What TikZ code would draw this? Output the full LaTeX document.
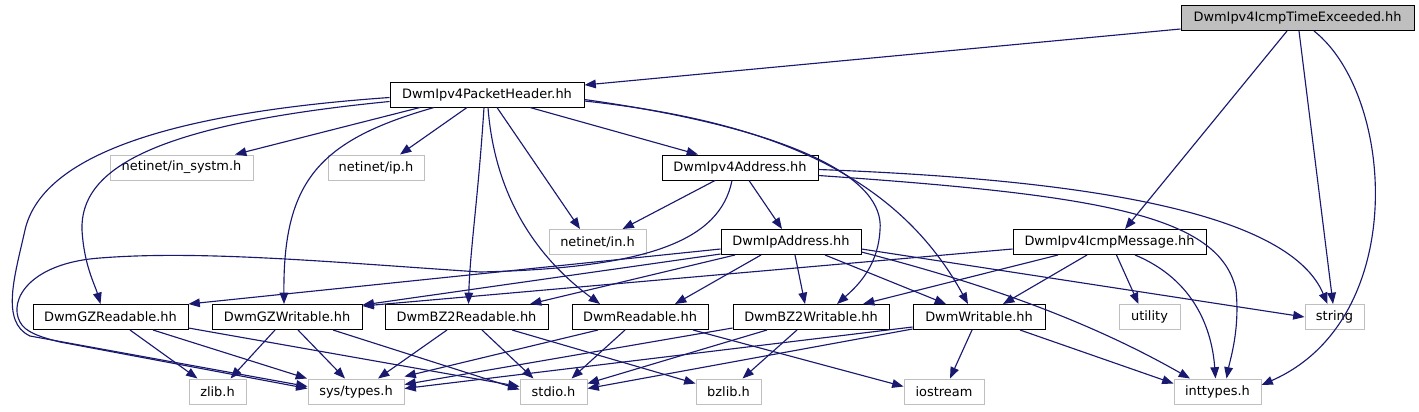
\documentclass[tikz,border=0pt]{standalone}
\usepackage{fontspec}
\setmainfont{DejaVu Sans}
\usetikzlibrary{calc,arrows.meta}
\definecolor{edgecol}{HTML}{191970}
\definecolor{extgray}{HTML}{BFBFBF}
\begin{document}
\begin{tikzpicture}[x=0.75pt,y=-0.75pt,
  box/.style={draw=black, fill=white, line width=0.75pt, minimum height=18.75pt, inner sep=0pt, font=\fontsize{9.7}{11}\selectfont},
  extbox/.style={box, draw=extgray},
  rootbox/.style={box, fill=extgray},
  dep/.style={draw=edgecol, line width=0.85pt, -{Triangle[length=8.5pt,width=6.5pt]}, fill=none}]
\useasboundingbox (0,0) rectangle (1419,411);
% nodes
\node[rootbox, minimum width=174.75pt] (te) at (1297.5,18) {DwmIpv4IcmpTimeExceeded.hh};
\node[box, minimum width=145.5pt] (ph) at (487,94.5) {DwmIpv4PacketHeader.hh};
\node[extbox, minimum width=107.25pt] (insystm) at (181.5,167.5) {netinet/in\_systm.h};
\node[extbox, minimum width=72pt] (ip) at (376,167.5) {netinet/ip.h};
\node[box, minimum width=117pt] (v4a) at (740,167.5) {DwmIpv4Address.hh};
\node[extbox, minimum width=72.75pt] (in) at (597.5,242) {netinet/in.h};
\node[box, minimum width=105pt] (ipa) at (791,242) {DwmIpAddress.hh};
\node[box, minimum width=144.75pt] (icmp) at (1109.5,242) {DwmIpv4IcmpMessage.hh};
\node[box, minimum width=116.25pt] (gzr) at (110.5,317) {DwmGZReadable.hh};
\node[box, minimum width=112.5pt] (gzw) at (287,317) {DwmGZWritable.hh};
\node[box, minimum width=122.25pt] (bz2r) at (466.5,317) {DwmBZ2Readable.hh};
\node[box, minimum width=102pt] (rd) at (640,317) {DwmReadable.hh};
\node[box, minimum width=117pt] (bz2w) at (811,317) {DwmBZ2Writable.hh};
\node[box, minimum width=99pt] (wr) at (979,317) {DwmWritable.hh};
\node[extbox, minimum width=45.75pt] (util) at (1149.5,317) {utility};
\node[extbox, minimum width=44.25pt] (str) at (1334.5,317) {string};
\node[extbox, minimum width=42.75pt] (zlib) at (217.5,391.5) {zlib.h};
\node[extbox, minimum width=72pt] (sys) at (356,391.5) {sys/types.h};
\node[extbox, minimum width=50.25pt] (stdio) at (553.5,391.5) {stdio.h};
\node[extbox, minimum width=48.75pt] (bzlib) at (728.5,391.5) {bzlib.h};
\node[extbox, minimum width=60pt] (ios) at (944,391.5) {iostream};
\node[extbox, minimum width=65.25pt] (int) at (1217.5,391.5) {inttypes.h};
% edges from te
\draw[dep] ($(te.south west)+(0,-2)$) -- ($(ph.east)+(0,-9.5)$);
\draw[dep] ($(te.south)+(-10.5,0)$) -- ($(icmp.north)+(15.5,0)$);
\draw[dep] ($(te.south)+(1.5,0)$) -- ($(str.north)+(-1.5,0)$);
\draw[dep] ($(te.south)+(16.5,0)$) .. controls (1395,95) and (1410,320) .. ($(int.east)+(0,-6.5)$);
% edges from ph
\draw[dep] ($(ph.south)+(-67,0)$) -- ($(insystm.north)+(53.5,0)$);
\draw[dep] ($(ph.south)+(-20,0)$) -- ($(ip.north)+(24,0)$);
\draw[dep] ($(ph.south)+(43,0)$) -- ($(v4a.north)+(-42,0)$);
\draw[dep] ($(ph.south)+(10,0)$) -- ($(in.north)+(-17.5,0)$);
\draw[dep] ($(ph.west)+(0,7)$) .. controls (150,125) and (80,170) .. (82,230) .. controls (84,265) and (95,285) .. ($(gzr.north)+(-10,0)$);
\draw[dep] ($(ph.west)+(0,3)$) .. controls (140,115) and (40,165) .. (25,230) .. controls (15,275) and (0,322) .. (30,336) -- ($(sys.west)+(0,-5)$);
\draw[dep] ($(ph.south)+(-53,0)$) .. controls (320,140) and (283,180) .. ($(gzw.north)+(-3,0)$);
\draw[dep] ($(ph.south)+(-3,0)$) .. controls (478,200) and (470,250) .. ($(bz2r.north)+(2,0)$);
\draw[dep] ($(ph.south)+(1,0)$) .. controls (495,200) and (540,260) .. ($(rd.north)+(-40,0)$);
\draw[dep] ($(ph.east)+(0,5)$) .. controls (800,130) and (885,180) .. (880,230) .. controls (878,268) and (855,288) .. ($(bz2w.north)+(26,0)$);
\draw[dep] ($(ph.east)+(0,6.5)$) .. controls (780,122) and (900,180) .. ($(wr.north)+(-11,0)$);
% edges from v4a
\draw[dep] ($(v4a.south)+(-25,0)$) -- ($(in.north)+(25,0)$);
\draw[dep] ($(v4a.south)+(9,0)$) -- ($(ipa.north)+(-9,0)$);
\draw[dep] ($(v4a.south)+(-8,0)$) .. controls (720,240) and (650,268) .. (480,272) .. controls (330,262) and (200,250) .. (100,258) .. controls (30,263) and (8,300) .. (20,322) .. controls (25,332) and (40,337) .. (60,342) -- ($(sys.west)+(0,-3)$);
\draw[dep] ($(v4a.east)+(0,2)$) .. controls (1100,180) and (1290,215) .. ($(str.north)+(-7,0)$);
\draw[dep] ($(v4a.east)+(0,8)$) .. controls (1100,195) and (1220,215) .. (1236,290) .. controls (1240,330) and (1230,360) .. ($(int.north)+(9,0)$);
% edges from ipa
\draw[dep] ($(ipa.west)+(0,7)$) -- ($(gzr.east)+(0,-13)$);
\draw[dep] ($(ipa.south west)+(0,-1)$) -- ($(gzw.east)+(0,-12)$);
\draw[dep] ($(ipa.south)+(-56,0)$) -- ($(bz2r.north)+(63.5,0)$);
\draw[dep] ($(ipa.south)+(-30,0)$) -- ($(rd.north)+(35,0)$);
\draw[dep] ($(ipa.south)+(4,0)$) -- ($(bz2w.north)+(-6,0)$);
\draw[dep] ($(ipa.south)+(34,0)$) -- ($(wr.north)+(-33,0)$);
\draw[dep] ($(ipa.east)+(0,7)$) -- ($(str.west)+(0,0)$);
\draw[dep] ($(ipa.east)+(0,10)$) .. controls (950,275) and (1070,310) .. ($(int.north)+(-27.5,0)$);
% edges from icmp
\draw[dep] ($(icmp.west)+(0,7)$) -- ($(gzw.east)+(0,-11)$);
\draw[dep] ($(icmp.south)+(-51.5,0)$) -- ($(bz2w.north)+(52,0)$);
\draw[dep] ($(icmp.south)+(-22.5,0)$) -- ($(wr.north)+(24,0)$);
\draw[dep] ($(icmp.south)+(7,0)$) -- ($(util.north)+(-11,0)$);
\draw[dep] ($(icmp.south)+(25.5,0)$) .. controls (1195,280) and (1212,330) .. ($(int.north)+(-2,0)$);
% edges from readers / writers
\draw[dep] ($(gzr.south)+(19.5,0)$) -- ($(zlib.north)+(-20,0)$);
\draw[dep] ($(gzr.south)+(42.5,0)$) -- ($(sys.north)+(-49,0)$);
\draw[dep] ($(gzr.south east)+(0,-2)$) -- ($(stdio.west)+(0,-5)$);
\draw[dep] ($(gzw.south)+(-12,0)$) -- ($(zlib.north)+(13,0)$);
\draw[dep] ($(gzw.south)+(11,0)$) -- ($(sys.north)+(-11,0)$);
\draw[dep] ($(gzw.south)+(46,0)$) -- ($(stdio.west)+(0,-2)$);
\draw[dep] ($(bz2r.south)+(-19.5,0)$) -- ($(sys.north)+(22,0)$);
\draw[dep] ($(bz2r.south)+(15.5,0)$) -- ($(stdio.north)+(-20,0)$);
\draw[dep] ($(bz2r.south)+(45.5,0)$) -- ($(bzlib.west)+(0,-8)$);
\draw[dep] ($(rd.south)+(-42,0)$) -- ($(sys.north east)+(0,-2)$);
\draw[dep] ($(rd.south)+(-15,0)$) -- ($(stdio.north)+(18,0)$);
\draw[dep] ($(rd.south)+(53,0)$) -- ($(ios.west)+(0,-5)$);
\draw[dep] ($(bz2w.south west)+(0,-2)$) -- ($(sys.east)+(0,-7)$);
\draw[dep] ($(bz2w.south)+(-44,0)$) -- ($(stdio.east)+(0,-8)$);
\draw[dep] ($(bz2w.south)+(-14,0)$) -- ($(bzlib.north)+(14,0)$);
\draw[dep] ($(wr.south west)+(0,-3)$) -- ($(sys.east)+(0,-3)$);
\draw[dep] ($(wr.south west)+(0,-1)$) -- ($(stdio.east)+(0,-3)$);
\draw[dep] ($(wr.south)+(-7,0)$) -- ($(ios.north)+(6,0)$);
\draw[dep] ($(wr.south)+(41,0)$) -- ($(int.west)+(0,-8)$);
\end{tikzpicture}
\end{document}
